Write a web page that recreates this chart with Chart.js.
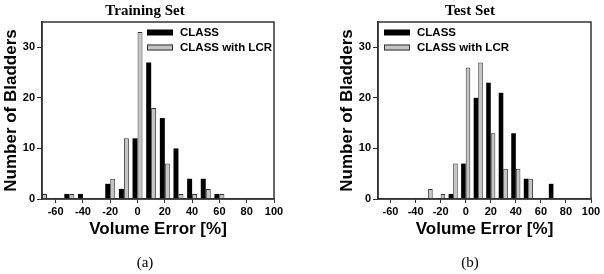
<!DOCTYPE html>
<html>
<head>
<meta charset="utf-8">
<script src="https://cdn.jsdelivr.net/npm/chart.js@4.4.1/dist/chart.umd.min.js"></script>
<style>
  body { margin: 0; background: #fff; }
  #wrap { position: relative; width: 604px; height: 274px; }
  canvas { position: absolute; top: 0; }
</style>
</head>
<body>
<div id="wrap">
  <canvas id="chartA" width="302" height="274" style="left:0"></canvas>
  <canvas id="chartB" width="302" height="274" style="left:302px"></canvas>
</div>
<script>
// histogram bins (volume error, %)
const bins = [-70, -60, -50, -40, -30, -20, -10, 0, 10, 20, 30, 40, 50, 60, 70];

const trainClass = [0, 0, 1, 1, 0, 3, 2, 12, 27, 16, 10, 4, 4, 1, 0];
const trainLcr   = [1, 0, 1, 0, 0, 4, 12, 33, 18, 7, 1, 1, 2, 1, 0];
const testClass  = [0, 0, 0, 0, 0, 0, 1, 7, 20, 23, 21, 13, 4, 0, 3];
const testLcr    = [0, 0, 0, 0, 2, 1, 7, 26, 27, 13, 6, 6, 4, 0, 0];

const xTicks = [-60, -40, -20, 0, 20, 40, 60, 80, 100];
const yTicks = [0, 10, 20, 30];

const sans = "'Liberation Sans', Arial, sans-serif";
const serif = "'Liberation Serif', 'Times New Roman', serif";

// frame, legend, title and caption
const extras = {
  id: 'extras',
  afterDraw(chart, args, o) {
    const ctx = chart.ctx;
    const c = chart.chartArea;
    ctx.save();
    ctx.strokeStyle = '#333';
    ctx.lineWidth = 1.5;
    ctx.strokeRect(c.left, c.top, c.right - c.left, c.bottom - c.top);

    ctx.textBaseline = 'middle';
    chart.data.datasets.forEach((ds, i) => {
      const y = o.legendY + i * 15;
      ctx.fillStyle = ds.backgroundColor;
      ctx.fillRect(o.legendX, y - 3, 26, 6);
      if (ds.borderWidth) {
        ctx.strokeStyle = ds.borderColor;
        ctx.lineWidth = 1;
        ctx.strokeRect(o.legendX + 0.5, y - 2.5, 25, 5);
      }
      ctx.fillStyle = '#000';
      ctx.font = 'bold 11.5px ' + sans;
      ctx.textAlign = 'left';
      ctx.fillText(ds.label, o.legendX + 33, y);
    });

    ctx.textAlign = 'center';
    ctx.fillStyle = '#000';
    ctx.font = 'bold 15px ' + serif;
    ctx.fillText(o.title, o.titleX, 11);
    ctx.font = '15px ' + serif;
    ctx.fillText(o.caption, o.titleX, 263);
    ctx.restore();
  }
};

function histogram(id, classData, lcrData, o) {
  return new Chart(document.getElementById(id), {
    type: 'bar',
    data: {
      datasets: [{
        label: 'CLASS',
        data: bins.map((x, i) => ({ x: x, y: classData[i] })),
        backgroundColor: '#000',
        borderWidth: 0
      }, {
        label: 'CLASS with LCR',
        data: bins.map((x, i) => ({ x: x, y: lcrData[i] })),
        backgroundColor: '#c4c4c4',
        borderColor: '#333',
        borderWidth: 1
      }]
    },
    plugins: [extras],
    options: {
      responsive: false,
      animation: false,
      categoryPercentage: 0.73,
      barPercentage: 1,
      layout: { padding: { left: o.padLeft, right: o.padRight, top: 22, bottom: 34 } },
      scales: {
        x: {
          type: 'linear',
          min: -70,
          max: 100,
          offset: false,
          grid: { drawOnChartArea: false, offset: false, tickLength: 4, color: '#333' },
          border: { color: '#333', width: 1.5 },
          afterBuildTicks: s => { s.ticks = xTicks.map(v => ({ value: v })); },
          afterFit: s => { s.height = 41; },
          ticks: {
            color: '#000',
            padding: 2,
            maxRotation: 0,
            autoSkip: false,
            font: { family: sans, size: 11, weight: 'bold' }
          },
          title: {
            display: true,
            text: 'Volume Error [%]',
            color: '#000',
            padding: 0,
            font: { family: sans, size: 17, weight: 'bold' }
          }
        },
        y: {
          min: 0,
          max: 35,
          grid: { drawOnChartArea: false, tickLength: 5, color: '#333' },
          border: { color: '#333', width: 1.5 },
          afterBuildTicks: s => { s.ticks = yTicks.map(v => ({ value: v })); },
          afterFit: s => { s.width = 42; },
          ticks: {
            color: '#000',
            padding: 2,
            font: { family: sans, size: 11, weight: 'bold' }
          },
          title: {
            display: true,
            text: 'Number of Bladders',
            color: '#000',
            padding: { top: 1, bottom: 0 },
            font: { family: sans, size: 17, weight: 'bold' }
          }
        }
      },
      plugins: {
        legend: { display: false },
        tooltip: { enabled: false },
        extras: o
      }
    }
  });
}

histogram('chartA', trainClass, trainLcr, {
  padLeft: 0, padRight: 28,
  title: 'Training Set', caption: '(a)', titleX: 145,
  legendX: 147, legendY: 32.5
});

histogram('chartB', testClass, testLcr, {
  padLeft: 34, padRight: 13,
  title: 'Test Set', caption: '(b)', titleX: 168,
  legendX: 82, legendY: 32.5
});
</script>
</body>
</html>
